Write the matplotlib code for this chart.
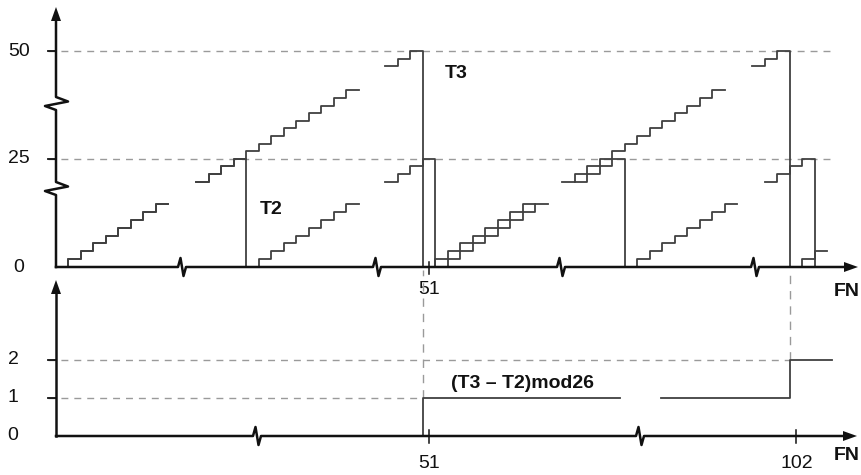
import numpy as np
import matplotlib
matplotlib.use("Agg")
import matplotlib.pyplot as plt

plt.rcParams['font.family'] = ['Liberation Sans', 'DejaVu Sans']

W, H = 862, 475

# first frame number (FN) of every drawn piece and the counter value frame by frame
t3_starts = [0, 22, 48, 73, 99]
t3_values = [
    [0, 1, 2, 3, 4, 5, 6, 7, 8],
    [22, 23, 24, 25, 26, 27, 28, 29, 30, 31, 32, 33, 34],
    [48, 49, 50, 0, 1, 2, 3, 4, 5, 6, 7, 8],
    [22, 23, 24, 25, 26, 27, 28, 29, 30, 31, 32, 33, 34],
    [48, 49, 50, 0, 1, 2],
]
t2_starts = [0, 22, 48, 74, 100]
t2_values = [
    [0, 1, 2, 3, 4, 5, 6, 7, 8],
    [22, 23, 24, 25, 0, 1, 2, 3, 4, 5, 6, 7, 8],
    [22, 23, 24, 25, 0, 1, 2, 3, 4, 5, 6, 7, 8],
    [22, 23, 24, 25, 0, 1, 2, 3, 4, 5, 6, 7, 8],
    [22, 23, 24, 25, 0],
]
# (T3 - T2) mod 26, two pieces either side of the axis break
diff_fn = [[47, 51, 67], [91, 102, 105.5]]
diff_values = [[0, 1, 1], [1, 2, 2]]

top_levels = [25, 50]
top_labels = ['0', '25', '50']
bottom_levels = [1, 2]
bottom_labels = ['0', '1', '2']
fn_marks = [51, 102]

ink = '#111111'
stair = '#404040'
dash = '#9a9a9a'


def broken_scale(data_pts, px_pts):
    xp = np.asarray(data_pts, float)
    fp = np.asarray(px_pts, float)
    return (lambda v: np.interp(v, xp, fp)), (lambda p: np.interp(p, fp, xp))


# broken axes: data value -> pixel (x from left, y from bottom)
top_fx = broken_scale([-4.48, 9.5, 21.5, 35.5, 47.5, 61.5, 72.5, 87.5, 98.5, 110],
                      [0, 174.75, 190, 365, 379.25, 554.25, 556.25, 743.75, 746.25, 890])
top_fy = broken_scale([-26.5, 0, 9, 21, 35, 47, 50, 56.8],
                      [0, 208, 278.65, 285.9, 392.3, 401.5, 424, 475])
bot_fx = broken_scale([-4.48, 10, 45, 51, 67, 91, 102, 110],
                      [0, 181, 348, 423, 620, 661, 790.5, 885])

fig = plt.figure(figsize=(W / 100, H / 100), dpi=100)

top = fig.add_axes([0, 0, 1, 1], label='top')
top.set_xscale('function', functions=top_fx)
top.set_yscale('function', functions=top_fy)

bot = fig.add_axes([0, 0, 1, 1], label='bottom')
bot.set_xscale('function', functions=bot_fx)

deco = fig.add_axes([0, 0, 1, 1], label='deco')

for ax in (top, bot, deco):
    ax.axis('off')
    ax.patch.set_alpha(0)

# ---- upper panel: T2 and T3 counters
for v in top_levels:
    top.axhline(v, xmin=48 / W, xmax=832 / W, color=dash, lw=1.0, ls=(0, (5, 4.3)))
    top.axhline(v, xmin=48 / W, xmax=56 / W, color=ink, lw=1.3)

for starts, values in ((t2_starts, t2_values), (t3_starts, t3_values)):
    for s, vals in zip(starts, values):
        fn = s + np.arange(len(vals) + 1)
        top.step(fn, vals + [vals[-1]], where='post', color=stair, lw=1.3)

for lab, v in zip(top_labels, [0] + top_levels):
    top.text(19 / W, v, lab, transform=top.get_yaxis_transform(),
             ha='center', va='center', fontsize=14, color=ink)

top.plot([fn_marks[0] + 0.5] * 2, [(H - 262) / H, (H - 274) / H],
         transform=top.get_xaxis_transform(), color=ink, lw=1.1)
top.text(fn_marks[0] + 0.5, (H - 290) / H, str(fn_marks[0]),
         transform=top.get_xaxis_transform(), ha='center', va='center',
         fontsize=14, color=ink)

# ---- lower panel: (T3 - T2) mod 26
bot_top_of_guides = (436 - 270) / 38
for v, m in zip(bottom_levels, fn_marks):
    bot.hlines(v, bot_fx[1](48), m, color=dash, lw=1.0, ls=(0, (5, 4.3)))
    bot.axhline(v, xmin=48 / W, xmax=56 / W, color=ink, lw=1.3)
    bot.vlines(m, v, bot_top_of_guides, color=dash, lw=1.0, ls=(0, (6, 5)))

for fn, vals in zip(diff_fn, diff_values):
    bot.step(fn, vals, where='post', color=stair, lw=1.3)

for lab, v in zip(bottom_labels, [0] + bottom_levels):
    bot.text(13 / W, v, lab, transform=bot.get_yaxis_transform(),
             ha='center', va='center', fontsize=14, color=ink)

for m in fn_marks:
    bot.plot([m + 0.5] * 2, [(H - 430) / H, (H - 443) / H],
             transform=bot.get_xaxis_transform(), color=ink, lw=1.1)
    bot.text(m + 0.5, (H - 464) / H, str(m), transform=bot.get_xaxis_transform(),
             ha='center', va='center', fontsize=14, color=ink)

# ---- axes lines, breaks and arrow heads (pixel space)
def h_axis(y, breaks, x_end):
    xs, ys = [56], [y]
    for c in breaks:
        xs += [c - 4, c - 1.5, c + 1.5, c + 4]
        ys += [y, y - 9, y + 9, y]
    xs.append(x_end)
    ys.append(y)
    deco.plot(xs, ys, color=ink, lw=1.8)
    deco.fill([x_end + 14, x_end, x_end], [y, y - 5, y + 5], color=ink, lw=0)


def v_axis(y0, breaks, y_end):
    xs, ys = [56], [y0]
    for c in breaks:
        xs += [56, 45, 68, 56]
        ys += [c + 6.5, c + 2.5, c - 2, c - 6.5]
    xs.append(56)
    ys.append(y_end)
    deco.plot(xs, ys, color=ink, lw=1.8)
    deco.fill([56, 51, 61], [y_end - 14, y_end, y_end], color=ink, lw=0)


h_axis(267, [182, 377, 561, 755], 844)
v_axis(267, [188.5, 103.5], 21)
h_axis(436, [257, 640], 843)
v_axis(436, [], 294)

for y in (292, 456):
    deco.text(847, y, 'FN', ha='center', va='center', fontsize=14,
              fontweight='bold', color=ink)
deco.text(456, 74, 'T3', ha='center', va='center', fontsize=14, fontweight='bold', color=ink)
deco.text(271, 210, 'T2', ha='center', va='center', fontsize=14, fontweight='bold', color=ink)
deco.text(523, 384, '(T3 – T2)mod26', ha='center', va='center', fontsize=14,
          fontweight='bold', color=ink)

top.set_xlim(top_fx[1](0), top_fx[1](W))
top.set_ylim(top_fy[1](0), top_fy[1](H))
bot.set_xlim(bot_fx[1](0), bot_fx[1](W))
bot.set_ylim(-39 / 38, 436 / 38)
deco.set_xlim(0, W)
deco.set_ylim(H, 0)

fig.savefig('out.png', dpi=100)
